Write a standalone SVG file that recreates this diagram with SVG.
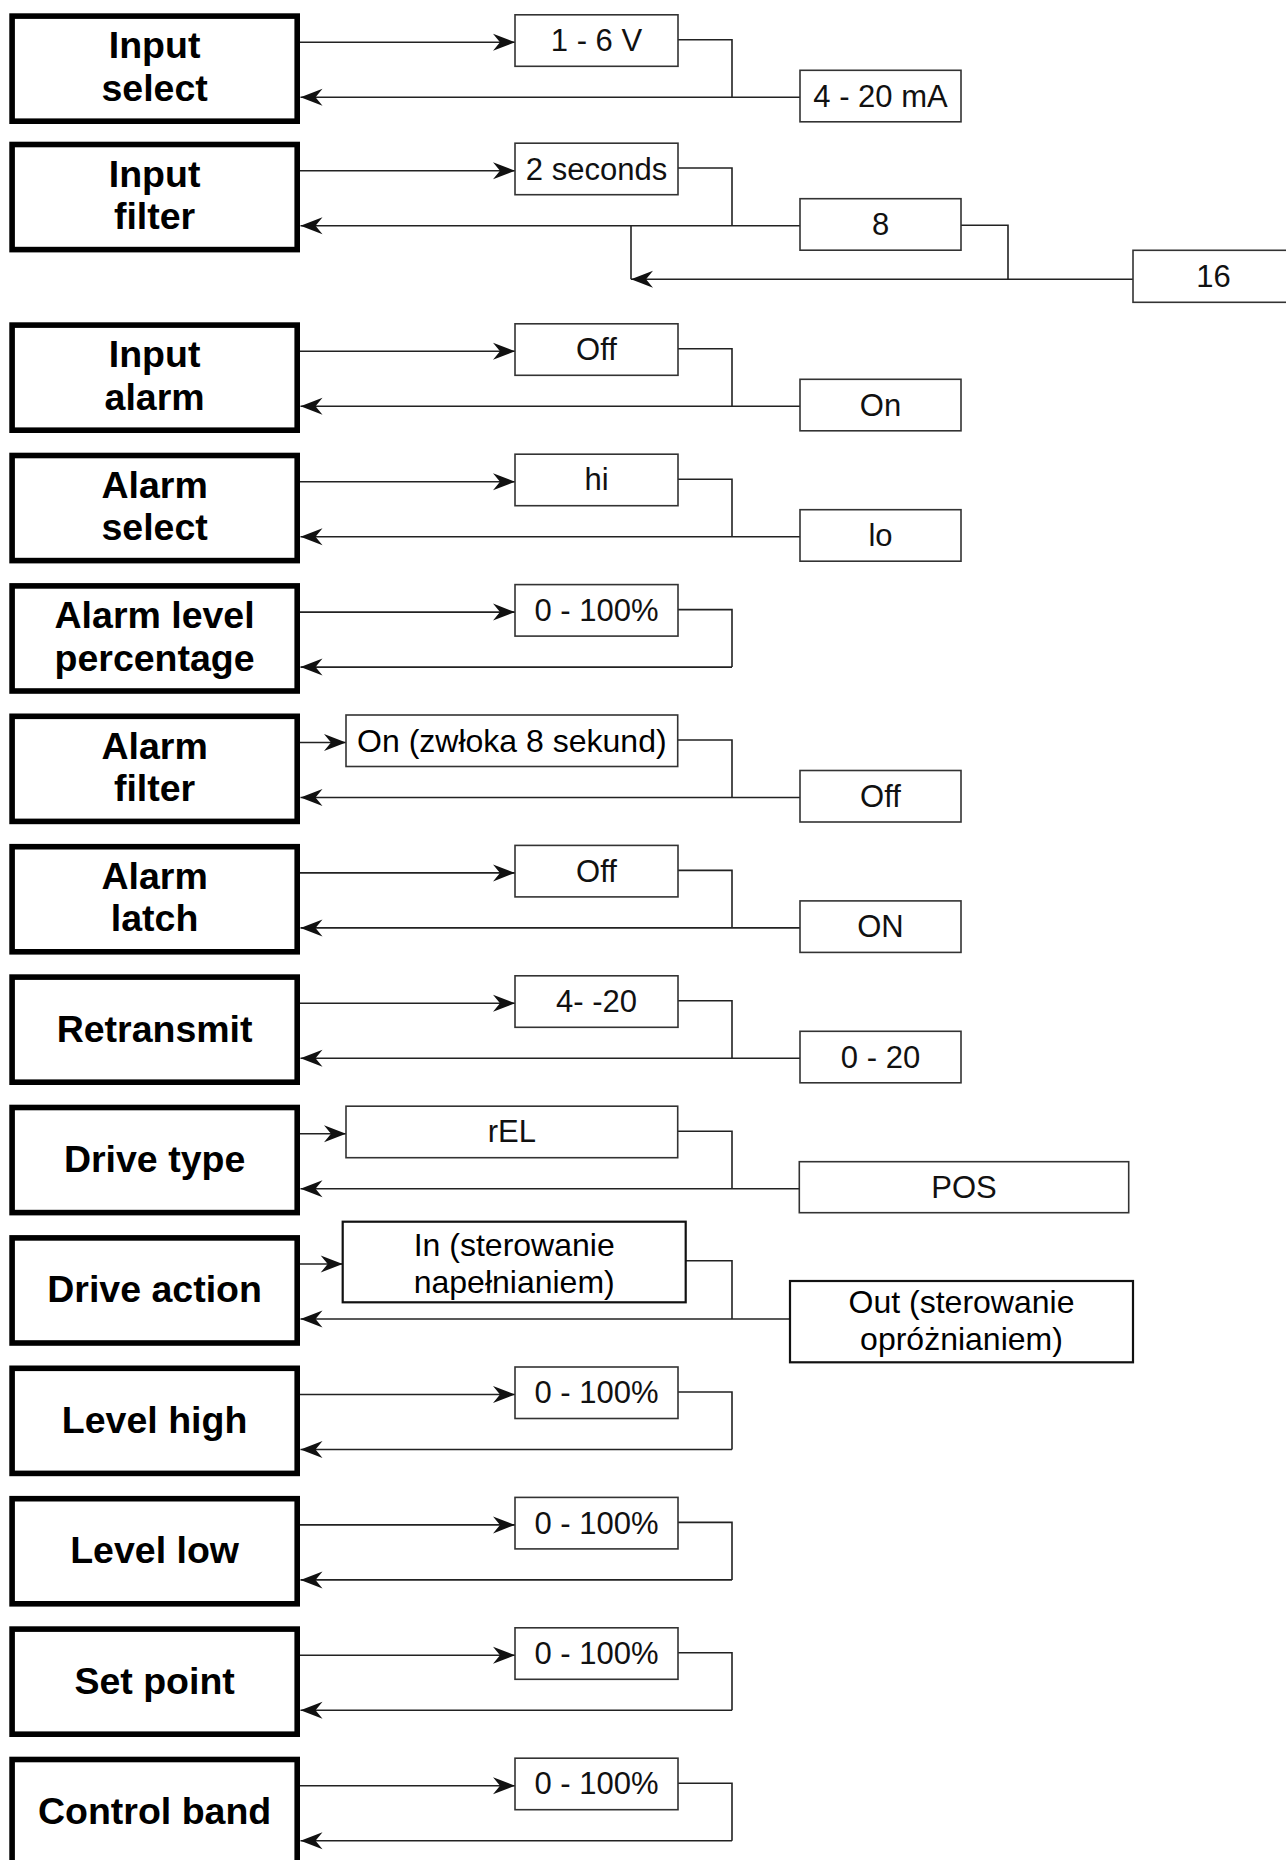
<svg xmlns="http://www.w3.org/2000/svg" width="1286" height="1860" viewBox="0 0 1286 1860">
<style>
.main{fill:#fff;stroke:#000;stroke-width:5.6}
.opt{fill:#fff;stroke:#333;stroke-width:1.6}
.opt2{fill:#fff;stroke:#111;stroke-width:2.2}
.lbl{font-family:"Liberation Sans",Arial,sans-serif;font-weight:bold;font-size:37.5px;text-anchor:middle;fill:#000}
.otx{font-family:"Liberation Sans",Arial,sans-serif;font-size:31px;text-anchor:middle;fill:#111}
.otb{font-family:"Liberation Sans",Arial,sans-serif;font-size:32px;text-anchor:middle;fill:#000}
.ln{fill:none;stroke:#222;stroke-width:1.6}
.arr{marker-end:url(#ah)}
</style>
<defs>
<marker id="ah" markerUnits="userSpaceOnUse" viewBox="-24 -10 25 20" markerWidth="25" markerHeight="20" refX="0" refY="0" orient="auto">
<path d="M0,0 L-22,-8.5 L-15,0 L-22,8.5 Z" fill="#111"/>
</marker>
</defs>
<rect width="1286" height="1860" fill="#fff"/>

<g id="connectors">
<!-- row 1 -->
<path class="ln arr" d="M300,42.3 H515"/>
<path class="ln" d="M678,39.8 H732 V97.3"/>
<path class="ln arr" d="M800,97.3 H300.5"/>
<!-- row 2 -->
<path class="ln arr" d="M300,170.7 H515"/>
<path class="ln" d="M678,168 H732 V225.7"/>
<path class="ln arr" d="M800,225.7 H300.5"/>
<path class="ln" d="M961,225.3 H1008 V279.3"/>
<path class="ln" d="M631,225.7 V279.3"/>
<path class="ln arr" d="M1133,279.3 H631"/>
<!-- row 3 -->
<path class="ln arr" d="M300,351.3 H515"/>
<path class="ln" d="M678,348.8 H732 V406.3"/>
<path class="ln arr" d="M800,406.3 H300.5"/>
<!-- row 4 -->
<path class="ln arr" d="M300,481.7 H515"/>
<path class="ln" d="M678,479.2 H732 V536.7"/>
<path class="ln arr" d="M800,536.7 H300.5"/>
<!-- row 5 -->
<path class="ln arr" d="M300,612.1 H515"/>
<path class="ln" d="M678,609.6 H732 V667.1"/>
<path class="ln arr" d="M732,667.1 H300.5"/>
<!-- row 6 -->
<path class="ln arr" d="M300,742.5 H346"/>
<path class="ln" d="M678,740 H732 V797.5"/>
<path class="ln arr" d="M800,797.5 H300.5"/>
<!-- row 7 -->
<path class="ln arr" d="M300,872.9 H515"/>
<path class="ln" d="M678,870.4 H732 V927.9"/>
<path class="ln arr" d="M800,927.9 H300.5"/>
<!-- row 8 -->
<path class="ln arr" d="M300,1003.3 H515"/>
<path class="ln" d="M678,1000.8 H732 V1058.3"/>
<path class="ln arr" d="M800,1058.3 H300.5"/>
<!-- row 9 -->
<path class="ln arr" d="M300,1133.7 H346"/>
<path class="ln" d="M678,1131.2 H732 V1188.7"/>
<path class="ln arr" d="M799.3,1188.7 H300.5"/>
<!-- row 10 -->
<path class="ln arr" d="M300,1264 H342.7"/>
<path class="ln" d="M685.7,1260.7 H732 V1319"/>
<path class="ln arr" d="M790,1319 H300.5"/>
<!-- row 11 -->
<path class="ln arr" d="M300,1394.5 H515"/>
<path class="ln" d="M678,1392 H732 V1449.5"/>
<path class="ln arr" d="M732,1449.5 H300.5"/>
<!-- row 12 -->
<path class="ln arr" d="M300,1524.9 H515"/>
<path class="ln" d="M678,1522.4 H732 V1579.9"/>
<path class="ln arr" d="M732,1579.9 H300.5"/>
<!-- row 13 -->
<path class="ln arr" d="M300,1655.3 H515"/>
<path class="ln" d="M678,1652.8 H732 V1710.3"/>
<path class="ln arr" d="M732,1710.3 H300.5"/>
<!-- row 14 -->
<path class="ln arr" d="M300,1785.7 H515"/>
<path class="ln" d="M678,1783.2 H732 V1840.7"/>
<path class="ln arr" d="M732,1840.7 H300.5"/>
</g>

<!-- Row 1 -->
<g id="input-select">
<rect class="main" x="12.1" y="16.1" width="285.1" height="105.1"/>
<text class="lbl" x="154.6" y="58.3">Input</text>
<text class="lbl" x="154.6" y="100.8">select</text>
</g>
<g id="opt-1-6v">
<rect class="opt" x="515" y="14.8" width="163" height="51.5"/>
<text class="otx" x="596.5" y="51">1 - 6 V</text>
</g>
<g id="opt-4-20ma">
<rect class="opt" x="800" y="70.3" width="161" height="51.5"/>
<text class="otx" x="880.5" y="106.6">4 - 20 mA</text>
</g>

<!-- Row 2 -->
<g id="input-filter">
<rect class="main" x="12.1" y="144.5" width="285.1" height="105.1"/>
<text class="lbl" x="154.6" y="186.7">Input</text>
<text class="lbl" x="154.6" y="229.2">filter</text>
</g>
<g id="opt-2s">
<rect class="opt" x="515" y="143.2" width="163" height="51.5"/>
<text class="otx" x="596.5" y="179.5">2 seconds</text>
</g>
<g id="opt-8">
<rect class="opt" x="800" y="198.7" width="161" height="51.5"/>
<text class="otx" x="880.5" y="235">8</text>
</g>
<g id="opt-16">
<rect class="opt" x="1133" y="250.3" width="161" height="52"/>
<text class="otx" x="1213.5" y="286.8">16</text>
</g>

<!-- Row 3 -->
<g id="input-alarm">
<rect class="main" x="12.1" y="325.1" width="285.1" height="105.1"/>
<text class="lbl" x="154.6" y="367.3">Input</text>
<text class="lbl" x="154.6" y="409.8">alarm</text>
</g>
<g id="opt-ia-off">
<rect class="opt" x="515" y="323.8" width="163" height="51.5"/>
<text class="otx" x="596.5" y="360.05">Off</text>
</g>
<g id="opt-ia-on">
<rect class="opt" x="800" y="379.3" width="161" height="51.5"/>
<text class="otx" x="880.5" y="415.55">On</text>
</g>

<!-- Row 4 -->
<g id="alarm-select">
<rect class="main" x="12.1" y="455.5" width="285.1" height="105.1"/>
<text class="lbl" x="154.6" y="497.7">Alarm</text>
<text class="lbl" x="154.6" y="540.2">select</text>
</g>
<g id="opt-hi">
<rect class="opt" x="515" y="454.2" width="163" height="51.5"/>
<text class="otx" x="596.5" y="490.45">hi</text>
</g>
<g id="opt-lo">
<rect class="opt" x="800" y="509.7" width="161" height="51.5"/>
<text class="otx" x="880.5" y="545.95">lo</text>
</g>

<!-- Row 5 -->
<g id="alarm-level-percentage">
<rect class="main" x="12.1" y="585.9" width="285.1" height="105.1"/>
<text class="lbl" x="154.6" y="628.1">Alarm level</text>
<text class="lbl" x="154.6" y="670.6">percentage</text>
</g>
<g id="opt-alp">
<rect class="opt" x="515" y="584.6" width="163" height="51.5"/>
<text class="otx" x="596.5" y="620.85">0 - 100%</text>
</g>

<!-- Row 6 -->
<g id="alarm-filter">
<rect class="main" x="12.1" y="716.3" width="285.1" height="105.1"/>
<text class="lbl" x="154.6" y="758.5">Alarm</text>
<text class="lbl" x="154.6" y="801">filter</text>
</g>
<g id="opt-af-on">
<rect class="opt" x="346" y="715" width="331.7" height="51.5"/>
<text class="otb" x="511.85" y="751.8">On (zwłoka 8 sekund)</text>
</g>
<g id="opt-af-off">
<rect class="opt" x="800" y="770.5" width="161" height="51.5"/>
<text class="otx" x="880.5" y="806.75">Off</text>
</g>

<!-- Row 7 -->
<g id="alarm-latch">
<rect class="main" x="12.1" y="846.7" width="285.1" height="105.1"/>
<text class="lbl" x="154.6" y="888.9">Alarm</text>
<text class="lbl" x="154.6" y="931.4">latch</text>
</g>
<g id="opt-al-off">
<rect class="opt" x="515" y="845.4" width="163" height="51.5"/>
<text class="otx" x="596.5" y="881.65">Off</text>
</g>
<g id="opt-al-on">
<rect class="opt" x="800" y="900.9" width="161" height="51.5"/>
<text class="otx" x="880.5" y="937.15">ON</text>
</g>

<!-- Row 8 -->
<g id="retransmit">
<rect class="main" x="12.1" y="977.1" width="285.1" height="105.1"/>
<text class="lbl" x="154.6" y="1041.5">Retransmit</text>
</g>
<g id="opt-4-20">
<rect class="opt" x="515" y="975.8" width="163" height="51.5"/>
<text class="otx" x="596.5" y="1012.05">4- -20</text>
</g>
<g id="opt-0-20">
<rect class="opt" x="800" y="1031.3" width="161" height="51.5"/>
<text class="otx" x="880.5" y="1067.55">0 - 20</text>
</g>

<!-- Row 9 -->
<g id="drive-type">
<rect class="main" x="12.1" y="1107.5" width="285.1" height="105.1"/>
<text class="lbl" x="154.6" y="1171.9">Drive type</text>
</g>
<g id="opt-rel">
<rect class="opt" x="346" y="1106.2" width="331.7" height="51.5"/>
<text class="otx" x="511.85" y="1142.45">rEL</text>
</g>
<g id="opt-pos">
<rect class="opt" x="799.3" y="1161.7" width="329.4" height="51"/>
<text class="otx" x="964" y="1197.95">POS</text>
</g>

<!-- Row 10 -->
<g id="drive-action">
<rect class="main" x="12.1" y="1237.9" width="285.1" height="105.1"/>
<text class="lbl" x="154.6" y="1302.3">Drive action</text>
</g>
<g id="opt-in">
<rect class="opt2" x="342.7" y="1221.7" width="343" height="80.6"/>
<text class="otb" x="514.2" y="1256">In (sterowanie</text>
<text class="otb" x="514.2" y="1292.6">napełnianiem)</text>
</g>
<g id="opt-out">
<rect class="opt2" x="790" y="1281" width="343" height="81.3"/>
<text class="otb" x="961.5" y="1313">Out (sterowanie</text>
<text class="otb" x="961.5" y="1350.3">opróżnianiem)</text>
</g>

<!-- Row 11 -->
<g id="level-high">
<rect class="main" x="12.1" y="1368.3" width="285.1" height="105.1"/>
<text class="lbl" x="154.6" y="1432.7">Level high</text>
</g>
<g id="opt-lh">
<rect class="opt" x="515" y="1367" width="163" height="51.5"/>
<text class="otx" x="596.5" y="1403.25">0 - 100%</text>
</g>

<!-- Row 12 -->
<g id="level-low">
<rect class="main" x="12.1" y="1498.7" width="285.1" height="105.1"/>
<text class="lbl" x="154.6" y="1563.1">Level low</text>
</g>
<g id="opt-ll">
<rect class="opt" x="515" y="1497.4" width="163" height="51.5"/>
<text class="otx" x="596.5" y="1533.65">0 - 100%</text>
</g>

<!-- Row 13 -->
<g id="set-point">
<rect class="main" x="12.1" y="1629.1" width="285.1" height="105.1"/>
<text class="lbl" x="154.6" y="1693.5">Set point</text>
</g>
<g id="opt-sp">
<rect class="opt" x="515" y="1627.8" width="163" height="51.5"/>
<text class="otx" x="596.5" y="1664.05">0 - 100%</text>
</g>

<!-- Row 14 -->
<g id="control-band">
<rect class="main" x="12.1" y="1759.5" width="285.1" height="105.1"/>
<text class="lbl" x="154.6" y="1823.9">Control band</text>
</g>
<g id="opt-cb">
<rect class="opt" x="515" y="1758.2" width="163" height="51.5"/>
<text class="otx" x="596.5" y="1794.45">0 - 100%</text>
</g>
</svg>
